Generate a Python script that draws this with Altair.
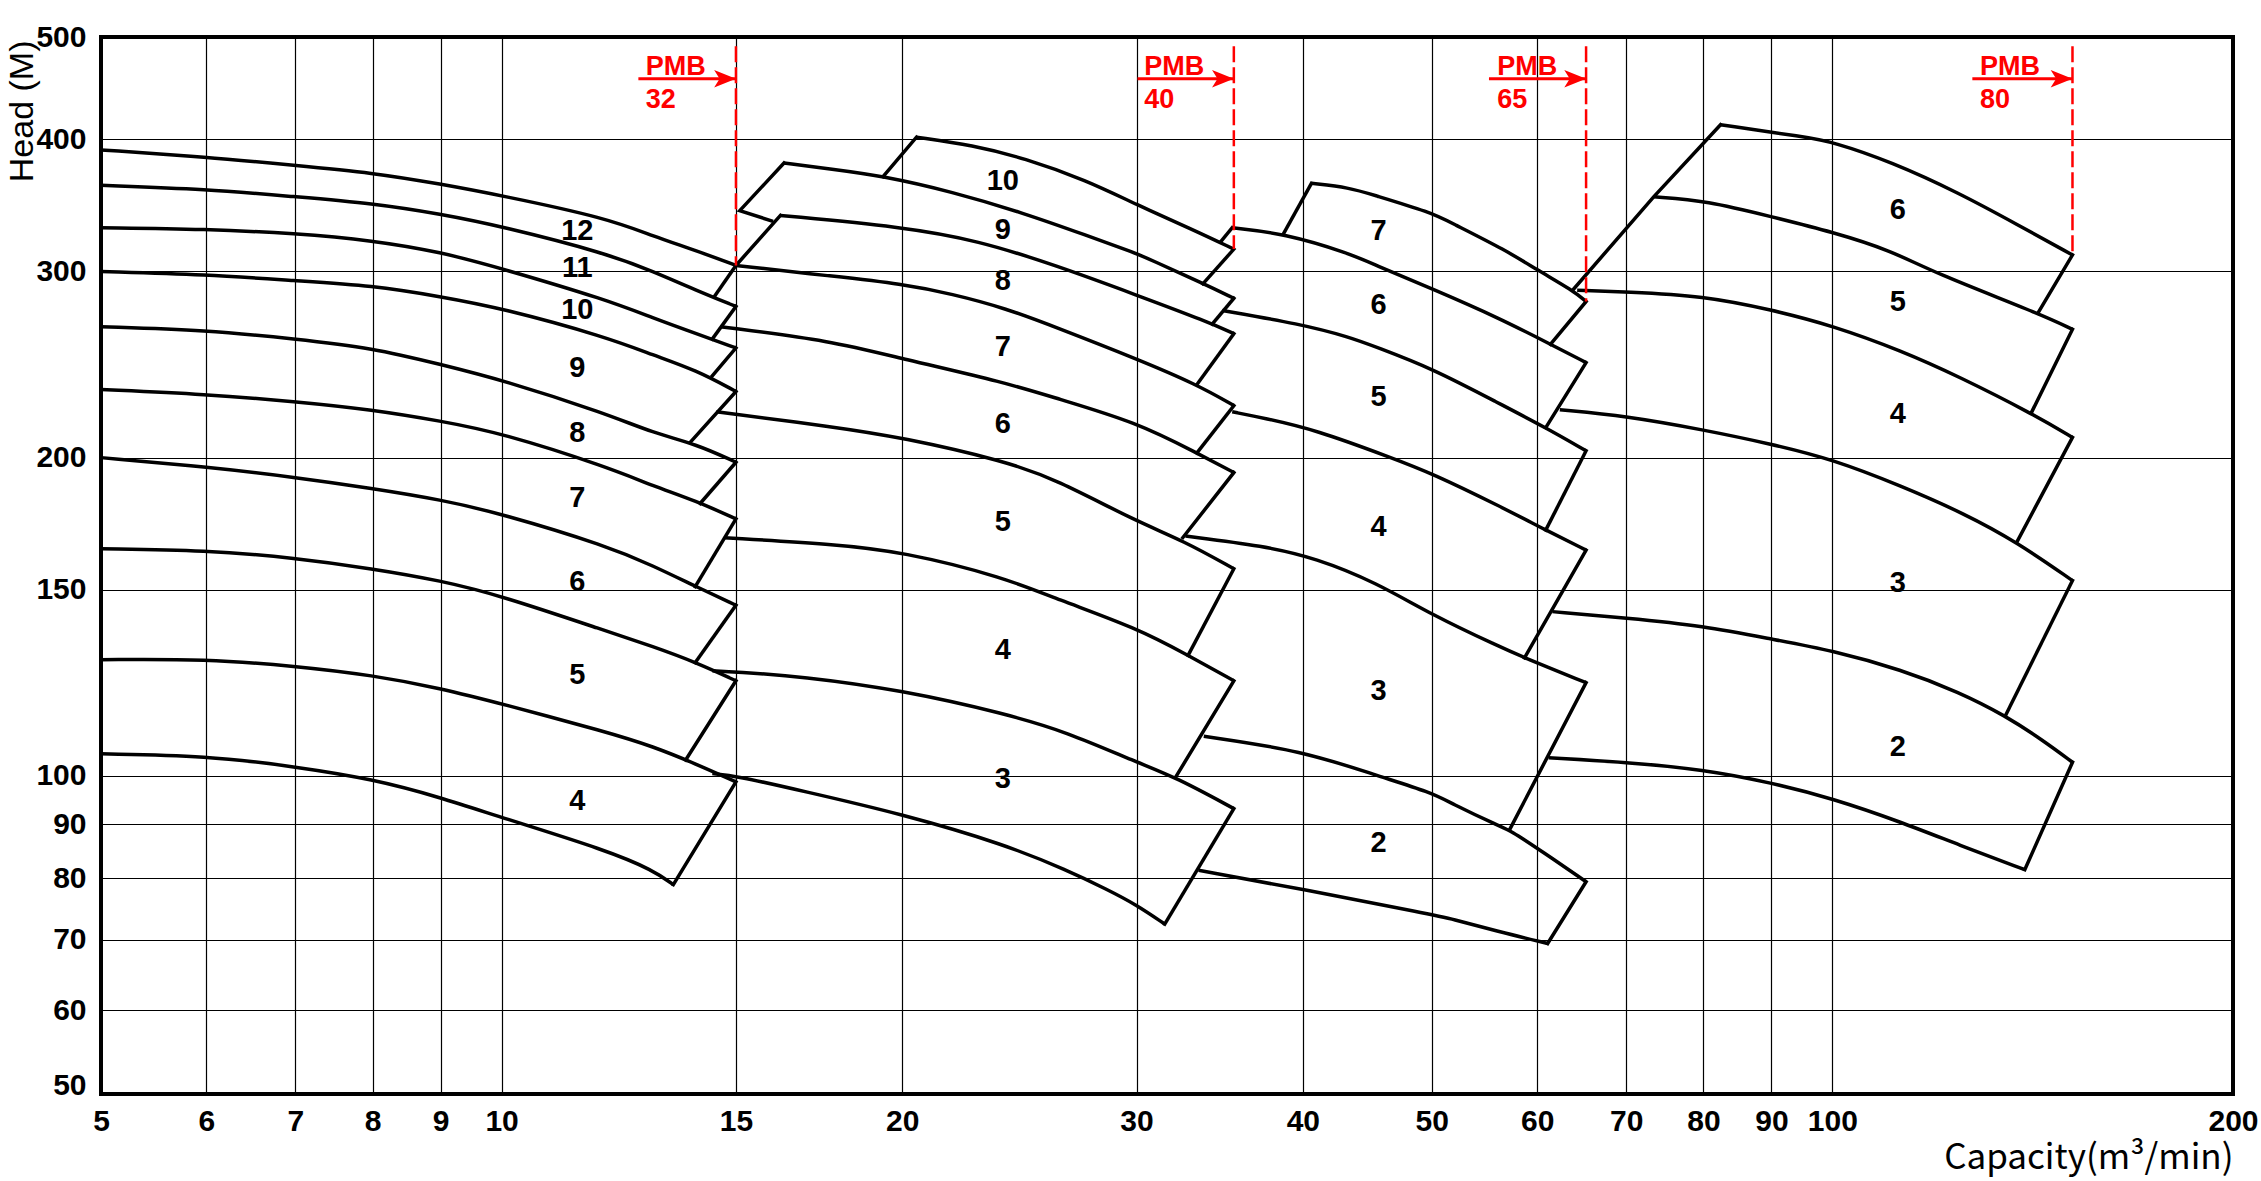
import altair as alt
import pandas as pd

# ---------------- axis ticks ----------------
X_TICKS = [5, 6, 7, 8, 9, 10, 15, 20, 30, 40, 50, 60, 70, 80, 90, 100, 200]
Y_TICKS = [50, 60, 70, 80, 90, 100, 150, 200, 300, 400, 500]

# ---------------- PMB32 group (stages 4-12) ----------------
G1_X = [5, 6, 7, 8, 9, 10, 12, 13, 14, 15]
G1_C1 = [391, 385, 378, 372, 363, 354, 337, 324, 314, 304]
G1_C2 = [362, 359, 353, 348, 340, 331, 312, 300, 288, 278]
G1_C3 = [330, 329, 326, 321, 313, 302, 282, 271, 262, 254]
G1_C4 = [300, 298, 294, 291, 284, 277, 260, 250, 242, 231]
G1_C5 = [266, 264, 259, 254, 245, 237, 220, 211, 206, 198]
G1_C6 = [232, 229.6, 226, 222, 216.6, 211, 196, 188, 182, 175]
G1_C7 = [200, 196, 191.6, 187, 182.5, 177, 165, 158, 151, 145]
G1_C8 = [164, 163.5, 160.7, 157, 153, 148, 137, 132.5, 128, 123]
G1_C9 = [128.8, 129, 127, 124.5, 121, 117, 110, 106.6, 102.6, 98.7]
G1_C10_X = [5, 6, 7, 8, 9, 10, 12, 13, 13.46]
G1_C10 = [104.9, 104.5, 102, 99.3, 95.4, 91.3, 85, 81.4, 78.9]
G1_LINKS = [
    [(15, 304), (14.45, 284)], [(15, 278), (14.4, 259)], [(15, 254), (14.4, 239)],
    [(15, 231), (13.87, 207)], [(15, 198), (14.1, 181)], [(15, 175), (13.98, 151)],
    [(15, 145), (13.98, 128)], [(15, 123), (13.75, 103.5)], [(15, 98.7), (13.46, 78.9)],
]
G1_LABELS = ["12", "11", "10", "9", "8", "7", "6", "5", "4"]
G1_LABEL_Y = [328, 302, 276, 243, 211, 183, 152.5, 124.5, 94.7]
G1_LABEL_X = 11.4

# ---------------- PMB40 group (stages 3-10) ----------------
G2_A = [(20.5, 402), (22.6, 395), (24.7, 384), (27.5, 366), (30, 347), (33, 329), (35.5, 315)]
G2_B = [(16.3, 380), (17.7, 375), (19.3, 369.6), (21.8, 357), (24.7, 340.6), (27.5, 324.6),
        (30, 312), (30.7, 308), (33.7, 292), (35.5, 283)]
G2_C = [(16.2, 339), (20, 330.6), (22.8, 321), (26.1, 304), (30, 285), (33.9, 269), (35.5, 262)]
G2_D = [(15, 304), (17.7, 297), (20, 292), (21.8, 285.7), (23.9, 277), (26.1, 265.6),
        (30, 248), (33.3, 234.5), (35.5, 224)]
G2_E = [(14.6, 266), (17.7, 258), (20, 248), (23.9, 235.6), (26.1, 227.6), (30, 216),
        (33.3, 202), (35.5, 193.6)]
G2_F = [(14.5, 221), (17.7, 214), (20, 209), (23.9, 198.5), (26.1, 190.7), (30, 174),
        (32.5, 167), (35.5, 157)]
G2_G = [(14.7, 168), (17.7, 165.7), (20, 163), (23.9, 154), (26.1, 147), (30, 138),
        (32.8, 130), (35.5, 123)]
G2_H = [(14.4, 125.7), (15, 125.4), (16.8, 124.2), (20, 120.5), (23.9, 114.5), (26.6, 110),
        (30, 103), (32.1, 99.7), (35.5, 93.1)]
G2_I = [(14.4, 100.5), (15, 100), (16.8, 96.8), (20, 92), (23.9, 86.1), (26.6, 81.4),
        (28.5, 78.1), (30, 75.5), (31.5, 72.4)]
G2_LINKS = [
    [(20.5, 402), (19.35, 369)], [(15.95, 335), (15.1, 342.5), (16.3, 380)],
    [(16.2, 339), (15, 304)],
    [(35.5, 315), (33.65, 292)], [(35.5, 283), (34.2, 267.6)], [(35.5, 262), (33.3, 234.5)],
    [(35.5, 224), (33.3, 202)], [(35.5, 193.6), (32.5, 168)], [(35.5, 157), (32.8, 130)],
    [(35.5, 123), (32.1, 99.7)], [(35.5, 93.1), (31.5, 72.4)],
]
G2_LABELS = ["10", "9", "8", "7", "6", "5", "4", "3"]
G2_LABEL_Y = [365, 328.5, 294, 254.6, 215.4, 173.8, 131.6, 99.4]
G2_LABEL_X = 23.8

# ---------------- PMB65 group (stages 2-7) ----------------
G3_Q = [(40.6, 363.5), (43.4, 360), (45, 355), (50, 341), (51.6, 334), (56.9, 314),
        (60, 301), (63.8, 288), (65.3, 281)]
G3_P = [(35.4, 330), (38.7, 326), (43.4, 312), (45.4, 304), (50, 289), (56.2, 271),
        (61.4, 256), (65.3, 246)]
G3_R = [(34.8, 275.6), (39.8, 267.6), (43.4, 260), (45.4, 254.5), (50, 243), (56.2, 225),
        (60.9, 213.5), (65.3, 203)]
G3_S = [(35.4, 221), (37.4, 218), (40.9, 212.5), (46.6, 200), (50, 193.3), (56.2, 180),
        (60.9, 170.8), (65.3, 163.5)]
G3_T = [(32.65, 168.6), (37.4, 165), (40.9, 160.7), (45.4, 152.4), (50, 142), (56.2, 132.5),
        (58.7, 129.3), (65.3, 122.5)]
G3_U = [(33.7, 109), (40, 105.6), (45.4, 100.1), (50, 96.4), (51.6, 94.3), (56.2, 89.6),
        (57.2, 88.9), (60.6, 84.7), (65.3, 79.4)]
G3_V = [(33.4, 81.4), (40, 78.1), (50, 73.9), (51.6, 73.3), (56.2, 71.2), (61.1, 69.4)]
G3_LINKS = [
    [(40.6, 363.5), (38.7, 326)], [(35.4, 330), (34.7, 320)],
    [(65.3, 281), (61.4, 256)], [(65.3, 246), (60.9, 213.5)], [(65.3, 203), (60.9, 170.8)],
    [(65.3, 163.5), (58.7, 129.3)], [(65.3, 122.5), (57.2, 88.9)], [(65.3, 79.4), (61.1, 69.4)],
]
G3_LABELS = ["7", "6", "5", "4", "3", "2"]
G3_LABEL_Y = [327.5, 278.6, 228, 172, 120.4, 86.3]
G3_LABEL_X = 45.6

# ---------------- PMB80 group (stages 2-6) ----------------
G4_W1 = [(82.4, 413), (95.5, 402), (100, 398), (110.7, 381), (124.5, 356), (137.6, 332.5),
         (151.5, 311)]
G4_W2 = [(73.4, 353), (80.5, 350), (90, 338), (100, 327), (110.7, 314), (119, 299.5),
         (142.7, 274), (151.5, 264.5)]
G4_W3 = [(64.3, 288), (70, 287), (80, 284.5), (90, 276), (100, 266.7), (112.7, 252.4),
         (124.5, 238.6), (141.4, 220), (151.5, 209)]
G4_W4 = [(62.4, 222), (70, 219), (80, 212.5), (90, 206), (100, 199.3), (112.7, 188),
         (125.7, 177), (137.6, 166.4), (151.5, 153)]
G4_W5 = [(61.6, 143), (70, 141), (80, 138.6), (90, 134.7), (100, 131.4), (112.7, 126),
         (124.5, 120), (134.9, 114), (144, 108), (151.5, 103)]
G4_W6 = [(61.2, 104), (70, 103), (80, 101.4), (90, 98.5), (100, 95.2), (112.7, 90.4),
         (124.5, 86), (139.5, 81.5)]
G4_LINKS = [
    [(63.8, 288), (73.4, 353), (82.4, 413)],
    [(151.5, 311), (142.7, 274)], [(151.5, 264.5), (141.2, 221)], [(151.5, 209), (137.6, 166.4)],
    [(151.5, 153), (134.9, 114)], [(151.5, 103), (139.5, 81.5)],
]
G4_LABELS = ["6", "5", "4", "3", "2"]
G4_LABEL_Y = [343, 280.5, 220, 152.3, 106.5]
G4_LABEL_X = 112

# ---------------- PMB markers ----------------
PMB_NUM = ["32", "40", "65", "80"]
PMB_LINE_X = [15, 35.5, 65.3, 151.5]
PMB_LINE_END = [304, 315, 281, 311]
PMB_ARROW_FROM = [12.67, 30.05, 55.2, 127.4]
PMB_TEXT_X = [12.83, 30.4, 56.0, 129.1]
PMB_LINE_TOP = 490
PMB_ARROW_Y = 456.5
PMB_WORD_Y = 460
PMB_NUM_Y = 428

# ---------------- build tables ----------------
curves = []
for name, ys in [("g1c1", G1_C1), ("g1c2", G1_C2), ("g1c3", G1_C3), ("g1c4", G1_C4),
                 ("g1c5", G1_C5), ("g1c6", G1_C6), ("g1c7", G1_C7), ("g1c8", G1_C8),
                 ("g1c9", G1_C9)]:
    curves.append((name, list(zip(G1_X, ys))))
curves.append(("g1c10", list(zip(G1_C10_X, G1_C10))))
for gname, group in [("g2", [G2_A, G2_B, G2_C, G2_D, G2_E, G2_F, G2_G, G2_H, G2_I]),
                     ("g3", [G3_Q, G3_P, G3_R, G3_S, G3_T, G3_U, G3_V]),
                     ("g4", [G4_W1, G4_W2, G4_W3, G4_W4, G4_W5, G4_W6])]:
    for k, pts in enumerate(group):
        curves.append((f"{gname}c{k}", pts))
links = []
for gname, group in [("g1", G1_LINKS), ("g2", G2_LINKS), ("g3", G3_LINKS), ("g4", G4_LINKS)]:
    for k, pts in enumerate(group):
        links.append((f"{gname}l{k}", pts))


def to_df(segs):
    rows = []
    for name, pts in segs:
        for i, (x, y) in enumerate(pts):
            rows.append({"seg": name, "i": i, "x": x, "y": y})
    return pd.DataFrame(rows)


curves_df = to_df(curves)
links_df = to_df(links)

lab_rows = []
for labs, ys, xv in [(G1_LABELS, G1_LABEL_Y, G1_LABEL_X), (G2_LABELS, G2_LABEL_Y, G2_LABEL_X),
                     (G3_LABELS, G3_LABEL_Y, G3_LABEL_X), (G4_LABELS, G4_LABEL_Y, G4_LABEL_X)]:
    for t, y in zip(labs, ys):
        lab_rows.append({"t": t, "x": xv, "y": y})
labels_df = pd.DataFrame(lab_rows)

pmb_df = pd.DataFrame({
    "num": PMB_NUM, "word": ["PMB"] * 4, "lx": PMB_LINE_X, "lend": PMB_LINE_END,
    "ltop": [PMB_LINE_TOP] * 4, "ax": PMB_ARROW_FROM, "ay": [PMB_ARROW_Y] * 4,
    "tx": PMB_TEXT_X, "wy": [PMB_WORD_Y] * 4, "ny": [PMB_NUM_Y] * 4,
})

# ---------------- styling ----------------
FONT = "Liberation Sans, Arial, sans-serif"

xscale = alt.Scale(type="log", domain=[5, 200], nice=False)
yscale = alt.Scale(type="log", domain=[50, 500], nice=False)

xaxis = alt.Axis(values=X_TICKS, format="d", grid=True, gridColor="black", gridWidth=1.2,
                 gridOpacity=1, domain=False, ticks=False, tickSize=0,
                 labelFont=FONT, labelFontSize=30, labelFontWeight="bold", labelColor="black",
                 labelBaseline="alphabetic", labelPadding=36, labelFlush=False,
                 labelOverlap=False,
                 title="Capacity(m³/min)", titleFont="Noto Sans CJK SC", titleFontSize=35,
                 titleFontWeight="normal", titleColor="black", titleAlign="right",
                 titleBaseline="alphabetic", titleX=2132, titleY=74)
yaxis = alt.Axis(values=Y_TICKS, format="d", grid=True, gridColor="black", gridWidth=1.2,
                 gridOpacity=1, domain=False, ticks=False, tickSize=0,
                 labelFont=FONT, labelFontSize=30, labelFontWeight="bold", labelColor="black",
                 labelBaseline={"condition": {"test": "datum.value == 50", "value": "alphabetic"},
                                "value": "middle"},
                 labelPadding=15, labelFlush=False, labelOverlap=False,
                 title="Head (M)", titleFont=FONT, titleFontSize=34,
                 titleFontWeight="normal", titleColor="black", titleAngle=270,
                 titleAlign="right", titleBaseline="alphabetic", titleX=-69, titleY=3)

X = lambda f: alt.X(f, type="quantitative", scale=xscale, axis=xaxis)
Y = lambda f: alt.Y(f, type="quantitative", scale=yscale, axis=yaxis)

curve_layer = alt.Chart(curves_df).mark_line(color="black", strokeWidth=3.5,
                                             interpolate="basis").encode(
    x=X("x"), y=Y("y"), detail="seg:N", order="i:Q")

link_layer = alt.Chart(links_df).mark_line(color="black", strokeWidth=3.5, strokeJoin="miter",
                                           strokeCap="square").encode(
    x=X("x"), y=Y("y"), detail="seg:N", order="i:Q")

labels = alt.Chart(labels_df).mark_text(font=FONT, fontSize=29, fontWeight="bold",
                                        color="black", align="center",
                                        baseline="middle").encode(
    x=X("x"), y=Y("y"), text="t:N")

dashes = alt.Chart(pmb_df).mark_rule(color="#ff0000", strokeWidth=2.5,
                                     strokeDash=[16, 5]).encode(
    x=X("lx"), y=Y("ltop"), y2="lend")

arrows = alt.Chart(pmb_df).mark_rule(color="#ff0000", strokeWidth=3).encode(
    x=X("ax"), x2="lx", y=Y("ay"))

heads = alt.Chart(pmb_df).mark_point(shape="M0,0L-1,-0.4L-0.75,0L-1,0.4Z", filled=True,
                                     color="#ff0000", size=1900, opacity=1).encode(
    x=X("lx"), y=Y("ay"))

words = alt.Chart(pmb_df).mark_text(font=FONT, fontSize=27, fontWeight="bold",
                                    color="#ff0000", align="left",
                                    baseline="alphabetic").encode(
    x=X("tx"), y=Y("wy"), text="word:N")

nums = alt.Chart(pmb_df).mark_text(font=FONT, fontSize=27, fontWeight="bold",
                                   color="#ff0000", align="left",
                                   baseline="alphabetic").encode(
    x=X("tx"), y=Y("ny"), text="num:N")

chart = alt.layer(curve_layer, link_layer, labels, dashes, arrows, heads, words, nums).properties(
    width=2132, height=1057,
    autosize=alt.AutoSizeParams(type="none"),
    padding={"left": 101, "top": 37, "right": 28, "bottom": 87},
    background="white",
).configure_view(stroke="black", strokeWidth=4)

chart.save("out.html", embed_options={"renderer": "svg", "actions": False})
